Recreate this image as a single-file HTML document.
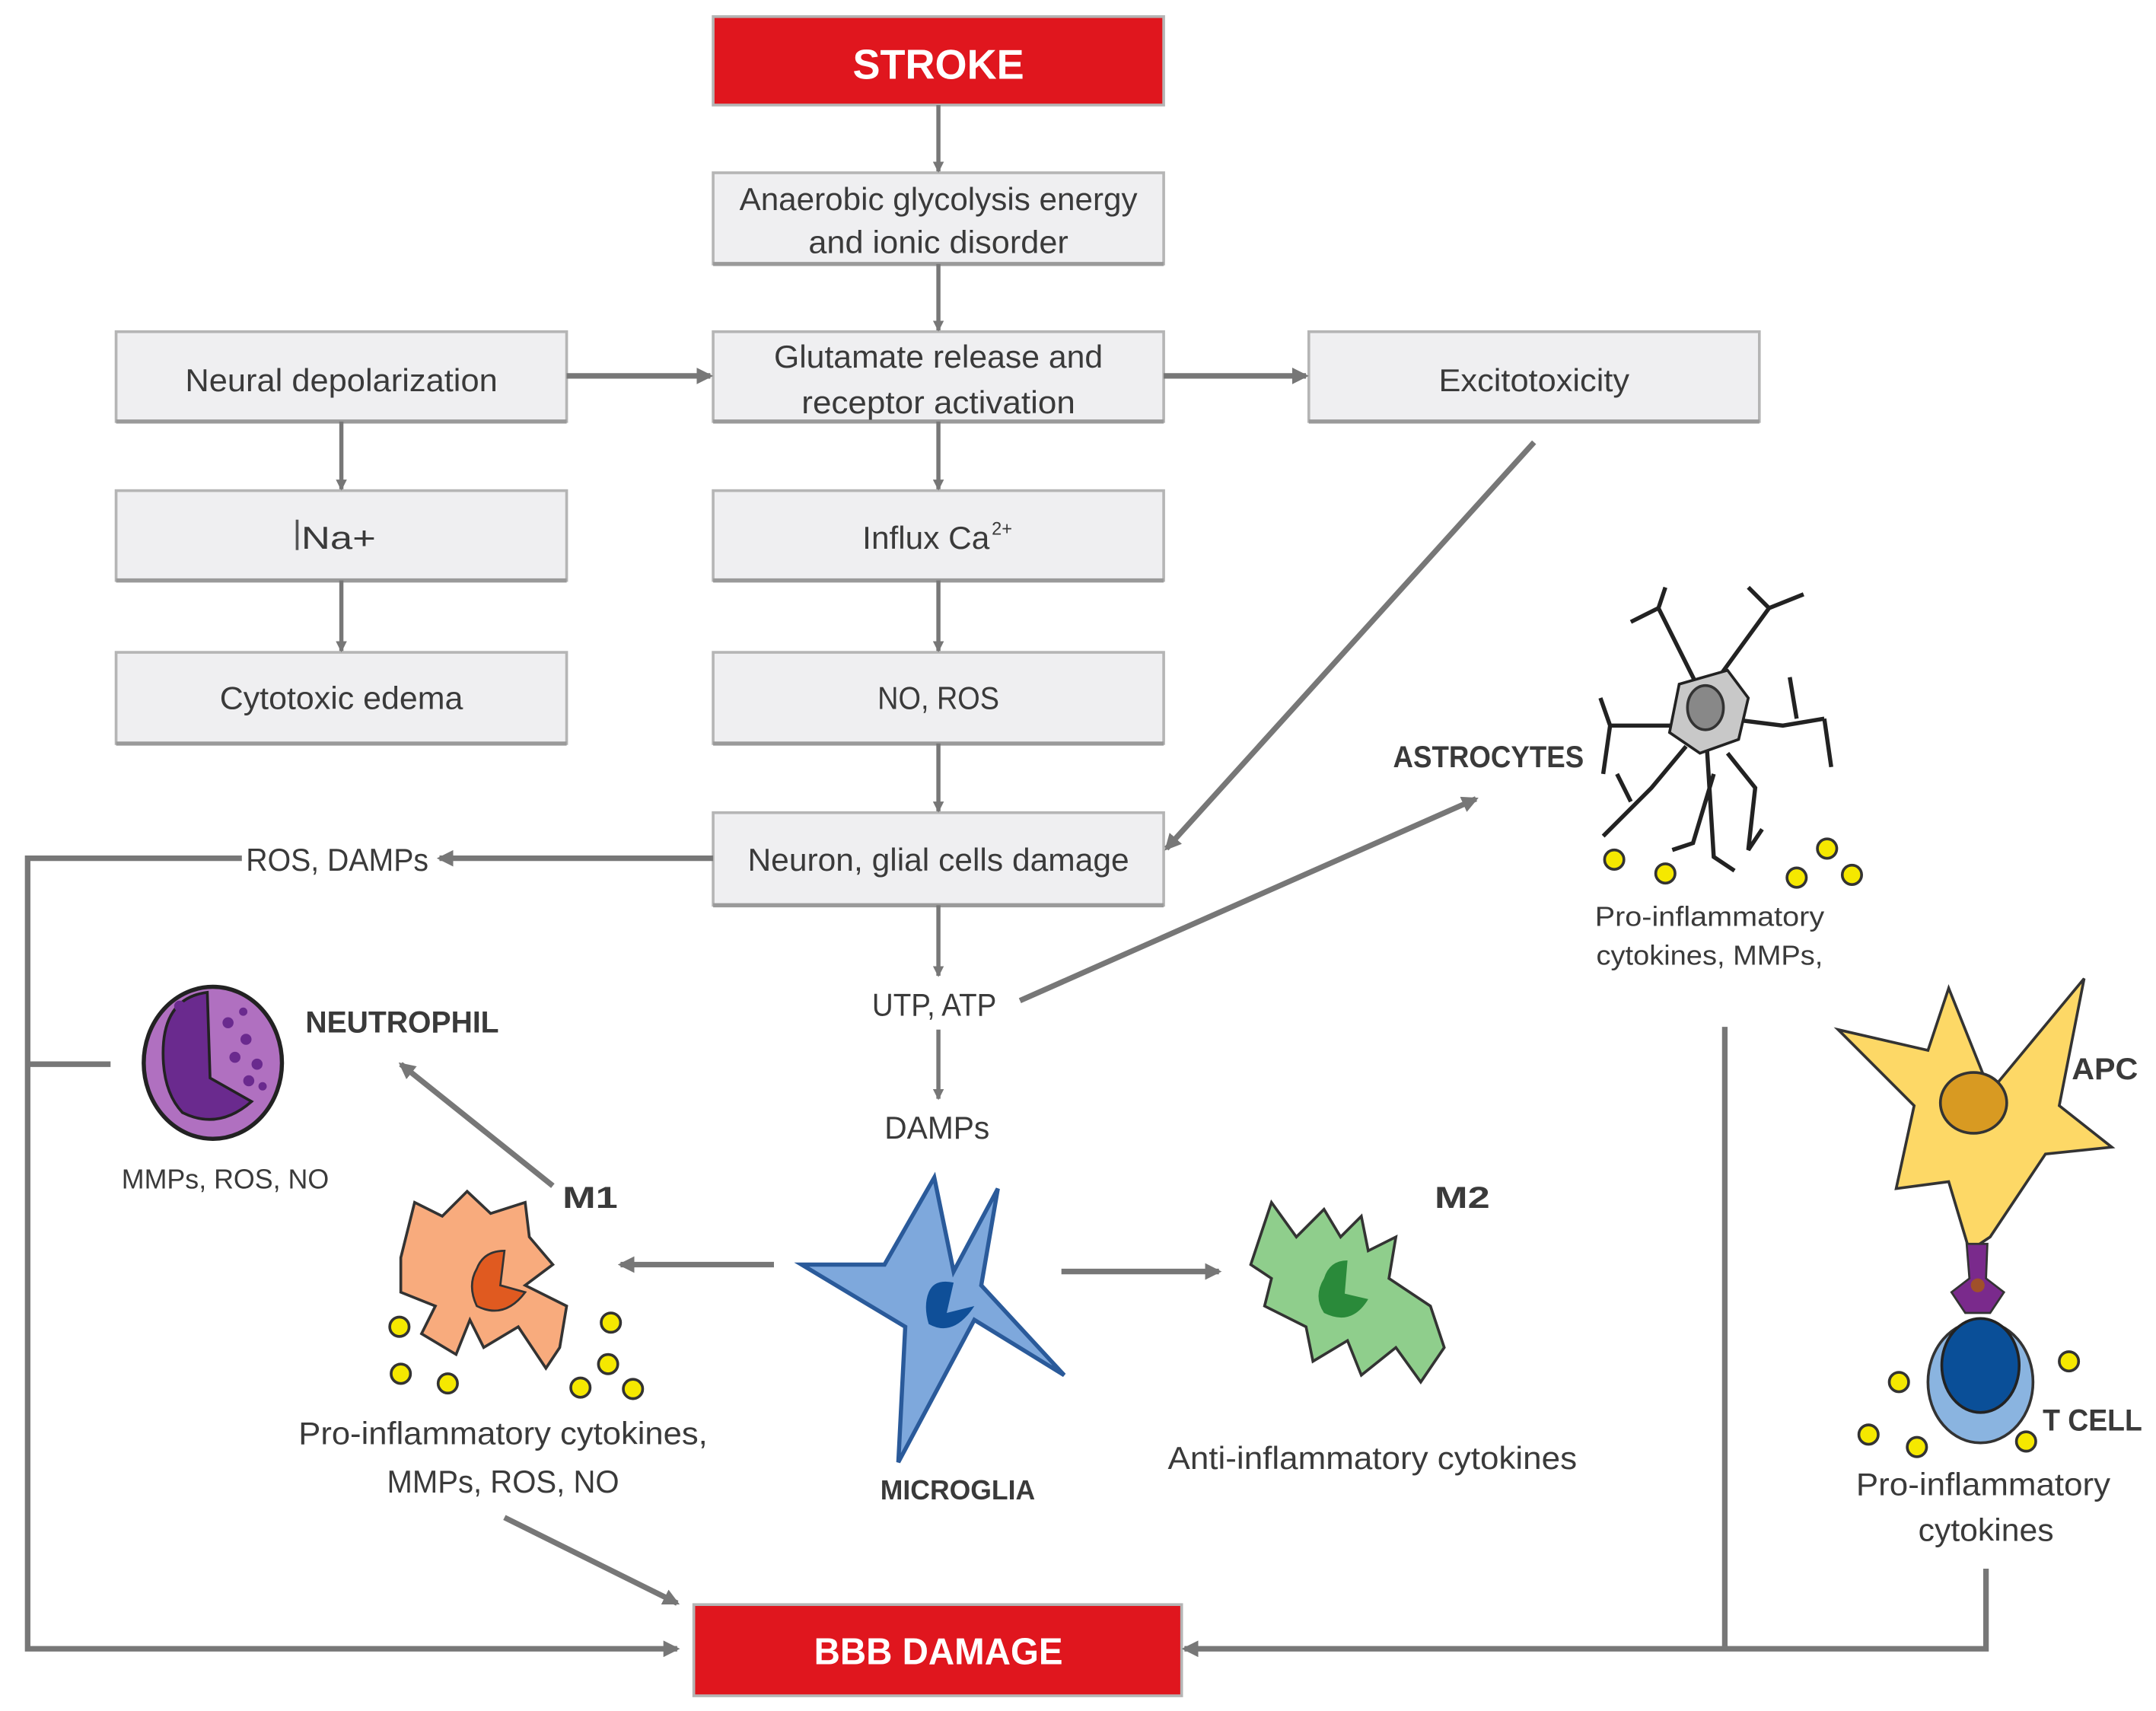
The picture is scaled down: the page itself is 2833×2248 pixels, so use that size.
<!DOCTYPE html>
<html><head><meta charset="utf-8"><style>
html,body{margin:0;padding:0;background:#fff;}
svg{display:block;}
text{font-family:"Liberation Sans",sans-serif;fill:#3a3a3a;}
</style></head><body>
<svg width="2833" height="2248" viewBox="0 0 1560 1238" preserveAspectRatio="none" xmlns="http://www.w3.org/2000/svg">
<defs>
<marker id="a" markerWidth="8" markerHeight="8" refX="7" refY="4" orient="auto" markerUnits="userSpaceOnUse"><path d="M0,0 L8,4 L0,8 z" fill="#777"/></marker>
<marker id="b" markerWidth="12" markerHeight="12" refX="10" refY="6" orient="auto" markerUnits="userSpaceOnUse"><path d="M0,0 L12,6 L0,12 z" fill="#777"/></marker>
</defs>
<g fill="#efeff1" stroke="#b5b5b5" stroke-width="2">
<rect x="516" y="125" width="326" height="66"/>
<rect x="84" y="240" width="326" height="65"/>
<rect x="516" y="240" width="326" height="65"/>
<rect x="947" y="240" width="326" height="65"/>
<rect x="84" y="355" width="326" height="65"/>
<rect x="516" y="355" width="326" height="65"/>
<rect x="84" y="472" width="326" height="66"/>
<rect x="516" y="472" width="326" height="66"/>
<rect x="516" y="588" width="326" height="67"/>
</g>
<g stroke="#9a9a9a" stroke-width="3">
<line x1="516" y1="191" x2="842" y2="191"/><line x1="84" y1="305" x2="410" y2="305"/><line x1="516" y1="305" x2="842" y2="305"/><line x1="947" y1="305" x2="1273" y2="305"/><line x1="84" y1="420" x2="410" y2="420"/><line x1="516" y1="420" x2="842" y2="420"/><line x1="84" y1="538" x2="410" y2="538"/><line x1="516" y1="538" x2="842" y2="538"/><line x1="516" y1="655" x2="842" y2="655"/>
</g>
<rect x="516" y="12" width="326" height="64" fill="#e0161e" stroke="#b5b5b5" stroke-width="2"/>
<rect x="502" y="1161" width="353" height="66" fill="#e0161e" stroke="#b5b5b5" stroke-width="2"/>
<text x="679" y="57" font-size="30" font-weight="bold" text-anchor="middle" style="fill:#fff" textLength="124" lengthAdjust="spacingAndGlyphs">STROKE</text>
<text x="679" y="1204" font-size="27" font-weight="bold" text-anchor="middle" style="fill:#fff" textLength="180" lengthAdjust="spacingAndGlyphs">BBB DAMAGE</text>
<g font-size="23" text-anchor="middle" lengthAdjust="spacingAndGlyphs">
<text x="679" y="152" textLength="288" lengthAdjust="spacingAndGlyphs">Anaerobic glycolysis energy</text>
<text x="679" y="183" textLength="188" lengthAdjust="spacingAndGlyphs">and ionic disorder</text>
<text x="247" y="283" textLength="226" lengthAdjust="spacingAndGlyphs">Neural depolarization</text>
<text x="679" y="266" textLength="238" lengthAdjust="spacingAndGlyphs">Glutamate release and</text>
<text x="679" y="299" textLength="198" lengthAdjust="spacingAndGlyphs">receptor activation</text>
<text x="1110" y="283" textLength="138" lengthAdjust="spacingAndGlyphs">Excitotoxicity</text>
<text x="245" y="397" textLength="54" lengthAdjust="spacingAndGlyphs">Na+</text>
<text x="670" y="397" textLength="92" lengthAdjust="spacingAndGlyphs">Influx Ca</text>
<text x="725" y="387" font-size="13">2+</text>
<text x="247" y="513" textLength="176" lengthAdjust="spacingAndGlyphs">Cytotoxic edema</text>
<text x="679" y="513" textLength="88" lengthAdjust="spacingAndGlyphs">NO, ROS</text>
<text x="679" y="630" textLength="276" lengthAdjust="spacingAndGlyphs">Neuron, glial cells damage</text>
<text x="244" y="630" textLength="132" lengthAdjust="spacingAndGlyphs">ROS, DAMPs</text>
<text x="676" y="735" textLength="90" lengthAdjust="spacingAndGlyphs">UTP, ATP</text>
<text x="678" y="824" textLength="76" lengthAdjust="spacingAndGlyphs">DAMPs</text>
<text x="364" y="1045" textLength="296" lengthAdjust="spacingAndGlyphs">Pro-inflammatory cytokines,</text>
<text x="364" y="1080" textLength="168" lengthAdjust="spacingAndGlyphs">MMPs, ROS, NO</text>
<text x="993" y="1063" textLength="296" lengthAdjust="spacingAndGlyphs">Anti-inflammatory cytokines</text>
<text x="1435" y="1082" textLength="184" lengthAdjust="spacingAndGlyphs">Pro-inflammatory</text>
<text x="1437" y="1115" textLength="98" lengthAdjust="spacingAndGlyphs">cytokines</text>
</g>
<line x1="215" y1="376" x2="215" y2="398" stroke="#555" stroke-width="2"/>
<g font-size="20" text-anchor="middle">
<text x="1237" y="670" textLength="166" lengthAdjust="spacingAndGlyphs">Pro-inflammatory</text>
<text x="1237" y="698" textLength="164" lengthAdjust="spacingAndGlyphs">cytokines, MMPs,</text>
<text x="163" y="860" textLength="150" lengthAdjust="spacingAndGlyphs">MMPs, ROS, NO</text>
</g>
<g font-size="22" font-weight="bold">
<text x="1008" y="555" textLength="138" lengthAdjust="spacingAndGlyphs">ASTROCYTES</text>
<text x="221" y="747" textLength="140" lengthAdjust="spacingAndGlyphs">NEUTROPHIL</text>
<text x="407" y="874" textLength="40" lengthAdjust="spacingAndGlyphs">M1</text>
<text x="1038" y="874" textLength="40" lengthAdjust="spacingAndGlyphs">M2</text>
<text x="637" y="1085" font-size="20" textLength="112" lengthAdjust="spacingAndGlyphs">MICROGLIA</text>
<text x="1499" y="781" textLength="48" lengthAdjust="spacingAndGlyphs">APC</text>
<text x="1478" y="1035" textLength="72" lengthAdjust="spacingAndGlyphs">T CELL</text>
</g>
<g stroke="#777" stroke-width="3" fill="none" marker-end="url(#a)">
<line x1="679" y1="76" x2="679" y2="124"/>
<line x1="679" y1="191" x2="679" y2="239"/>
<line x1="679" y1="305" x2="679" y2="354"/>
<line x1="679" y1="420" x2="679" y2="471"/>
<line x1="679" y1="538" x2="679" y2="587"/>
<line x1="247" y1="305" x2="247" y2="354"/>
<line x1="247" y1="420" x2="247" y2="471"/>
<line x1="679" y1="655" x2="679" y2="706"/>
<line x1="679" y1="745" x2="679" y2="795"/>
</g>
<g stroke="#777" stroke-width="4" fill="none" marker-end="url(#b)">
<line x1="410" y1="272" x2="514" y2="272"/>
<line x1="842" y1="272" x2="945" y2="272"/>
<line x1="1110" y1="320" x2="844" y2="614"/>
<line x1="516" y1="621" x2="318" y2="621"/>
<line x1="738" y1="724" x2="1068" y2="578"/>
<line x1="400" y1="858" x2="290" y2="770"/>
<line x1="560" y1="915" x2="449" y2="915"/>
<line x1="768" y1="920" x2="882" y2="920"/>
<line x1="365" y1="1098" x2="490" y2="1160"/>
<polyline points="175,621 20,621 20,1193 490,1193"/>
<polyline points="1437,1135 1437,1193 857,1193"/>
</g>
<g stroke="#777" stroke-width="4" fill="none">
<line x1="20" y1="770" x2="80" y2="770"/>
<line x1="1248" y1="743" x2="1248" y2="1193"/>
</g>
<!-- neutrophil -->
<ellipse cx="154" cy="769" rx="50" ry="55" fill="#b070c0" stroke="#222" stroke-width="3"/>
<path d="M118,762 Q118,722 150,718 L152,780 L182,797 Q158,818 132,805 Q118,790 118,762z" fill="#6a2a8e" stroke="#222" stroke-width="2"/>
<g fill="#6a2a8e"><circle cx="165" cy="740" r="4"/><circle cx="178" cy="752" r="4"/><circle cx="170" cy="765" r="4"/><circle cx="186" cy="770" r="4"/><circle cx="180" cy="782" r="4"/><circle cx="130" cy="728" r="4"/><circle cx="176" cy="732" r="3"/><circle cx="190" cy="786" r="3"/></g>
<!-- M1 -->
<path d="M300,870 L320,880 L338,862 L355,878 L380,870 L383,895 L400,915 L380,930 L410,945 L405,975 L395,990 L375,960 L350,975 L340,955 L330,980 L305,965 L315,945 L290,935 L290,910z" fill="#f8ab7d" stroke="#333" stroke-width="2"/>
<path d="M345,918 Q350,905 365,905 L362,930 L380,935 Q365,955 345,945 Q338,930 345,918z" fill="#e05a20" stroke="#333" stroke-width="1.5"/>
<!-- microglia -->
<path d="M676,852 L690,920 L722,860 L710,930 L770,995 L705,955 L650,1058 L655,960 L580,915 L640,915 z" fill="#7ea8dc" stroke="#2a5a9a" stroke-width="3"/>
<path d="M672,935 Q676,925 690,928 L685,950 L705,945 Q690,968 672,958 Q668,945 672,935z" fill="#0f4f98"/>
<!-- M2 -->
<path d="M920,870 L938,895 L958,875 L970,895 L985,880 L990,905 L1010,895 L1005,925 L1035,945 L1045,975 L1028,1000 L1010,975 L985,995 L975,970 L950,985 L945,960 L915,945 L920,925 L905,915z" fill="#8fce8c" stroke="#333" stroke-width="2"/>
<path d="M958,925 Q962,912 975,912 L973,936 L990,940 Q978,960 958,950 Q950,938 958,925z" fill="#2a8a3a"/>
<!-- astrocyte -->
<g stroke="#222" stroke-width="3" fill="none">
<path d="M1230,500 L1200,440 M1200,440 L1205,425 M1200,440 L1180,450 M1240,495 L1280,440 L1305,430 M1280,440 L1265,425 M1215,525 L1165,525 L1158,505 M1165,525 L1160,560 M1220,540 L1195,570 L1160,605 M1180,580 L1170,560 M1235,540 L1240,620 L1255,630 M1250,520 L1290,525 L1320,520 M1320,520 L1325,555 M1300,520 L1295,490 M1250,545 L1270,570 L1265,615 L1275,600 M1240,560 L1225,610 L1210,615"/>
</g>
<path d="M1215,495 L1250,485 L1265,505 L1258,535 L1230,545 L1208,530 z" fill="#c8c8c8" stroke="#222" stroke-width="2"/>
<ellipse cx="1234" cy="512" rx="13" ry="16" fill="#888" stroke="#333" stroke-width="2"/>
<!-- APC -->
<path d="M1410,715 L1440,790 L1508,708 L1490,800 L1528,830 L1480,835 L1440,895 L1425,905 L1410,855 L1372,860 L1385,800 L1330,745 L1395,760 z" fill="#fdd866" stroke="#333" stroke-width="2"/>
<ellipse cx="1428" cy="798" rx="24" ry="22" fill="#d89a22" stroke="#333" stroke-width="2"/>
<path d="M1423,900 L1438,900 L1437,925 L1450,935 L1440,950 L1422,950 L1412,935 L1425,925z" fill="#7a2a8c" stroke="#333" stroke-width="1.5"/>
<circle cx="1431" cy="930" r="5" fill="#a0502a"/>
<ellipse cx="1433" cy="1000" rx="38" ry="44" fill="#8ab4e0" stroke="#333" stroke-width="2"/>
<ellipse cx="1433" cy="988" rx="28" ry="34" fill="#0a4f98" stroke="#222" stroke-width="2"/>
<!-- cytokine dots -->
<g fill="#f5e800" stroke="#333" stroke-width="2">
<circle cx="1168" cy="622" r="7"/><circle cx="1205" cy="632" r="7"/><circle cx="1300" cy="635" r="7"/><circle cx="1322" cy="614" r="7"/><circle cx="1340" cy="633" r="7"/>
<circle cx="289" cy="960" r="7"/><circle cx="290" cy="994" r="7"/><circle cx="324" cy="1001" r="7"/><circle cx="442" cy="957" r="7"/><circle cx="440" cy="987" r="7"/><circle cx="420" cy="1004" r="7"/><circle cx="458" cy="1005" r="7"/>
<circle cx="1374" cy="1000" r="7"/><circle cx="1497" cy="985" r="7"/><circle cx="1352" cy="1038" r="7"/><circle cx="1387" cy="1047" r="7"/><circle cx="1466" cy="1043" r="7"/>
</g>
</svg>
</body></html>
